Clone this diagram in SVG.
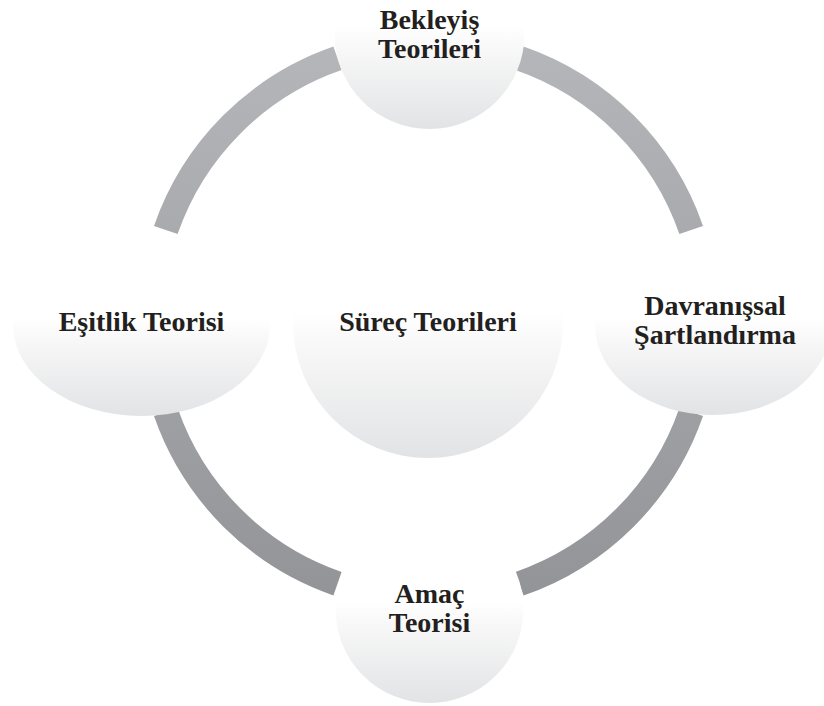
<svg xmlns="http://www.w3.org/2000/svg" width="824" height="706" viewBox="0 0 824 706">
  <style>
    .ring { fill: none; stroke: url(#ringShade); stroke-width: 25; stroke-linecap: butt; }
    .bubble { fill: url(#bubbleShade); }
    .label { font-family: "Liberation Serif", "Times New Roman", serif; font-weight: bold; font-size: 28px; fill: #231f20; text-anchor: middle; }
  </style>
  <defs>
    <linearGradient id="ringShade" gradientUnits="userSpaceOnUse" x1="0" y1="43" x2="0" y2="600">
      <stop offset="0" stop-color="#b5b6b9"/>
      <stop offset="1" stop-color="#939498"/>
    </linearGradient>
    <linearGradient id="bubbleShade" x1="0" y1="0" x2="0" y2="1">
      <stop offset="0" stop-color="#ffffff"/>
      <stop offset="0.46" stop-color="#ffffff"/>
      <stop offset="0.56" stop-color="#f9f9f9"/>
      <stop offset="1" stop-color="#e2e3e5"/>
    </linearGradient>
  </defs>

  <!-- cycle arcs between the outer nodes -->
  <g id="connectors">
    <path class="ring" d="M165.8,230 A278,278 0 0 1 337.5,58.3"/>
    <path class="ring" d="M519.5,58.3 A278,278 0 0 1 691.2,230"/>
    <path class="ring" d="M691.2,412 A278,278 0 0 1 519.5,583.7"/>
    <path class="ring" d="M337.5,583.7 A278,278 0 0 1 165.8,412"/>
  </g>

  <g id="node-center">
    <circle class="bubble" cx="428" cy="323" r="135"/>
    <text class="label" x="428" y="331">Süreç Teorileri</text>
  </g>

  <g id="node-top">
    <circle class="bubble" cx="429.5" cy="34" r="95"/>
    <text class="label" x="429.5" y="28.5">Bekleyiş</text>
    <text class="label" x="429.5" y="57.5">Teorileri</text>
  </g>

  <g id="node-right">
    <ellipse class="bubble" cx="713" cy="325" rx="118" ry="90"/>
    <text class="label" x="715" y="315">Davranışsal</text>
    <text class="label" x="715" y="344">Şartlandırma</text>
  </g>

  <g id="node-bottom">
    <circle class="bubble" cx="429.5" cy="609" r="94"/>
    <text class="label" x="429.5" y="603">Amaç</text>
    <text class="label" x="429.5" y="632">Teorisi</text>
  </g>

  <g id="node-left">
    <ellipse class="bubble" cx="141.5" cy="325" rx="128.5" ry="91"/>
    <text class="label" x="141.5" y="331">Eşitlik Teorisi</text>
  </g>
</svg>
